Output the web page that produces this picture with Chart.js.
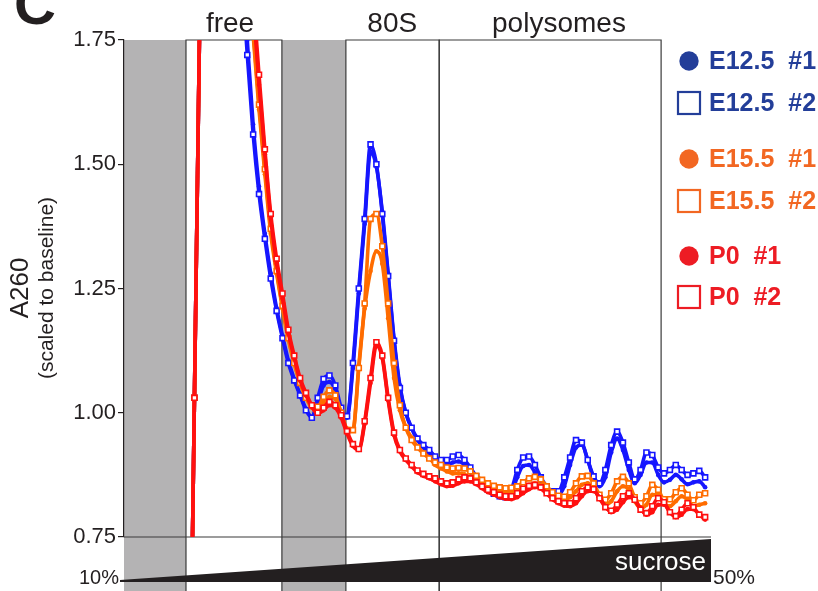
<!DOCTYPE html>
<html>
<head>
<meta charset="utf-8">
<title>Polysome profiles</title>
<script src="https://cdn.jsdelivr.net/npm/chart.js@4.4.1/dist/chart.umd.min.js"></script>
<style>
    html, body { margin: 0; padding: 0; background: #fff; }
    #wrap { width: 818px; height: 591px; }
</style>
</head>
<body>
<div id="wrap"><canvas id="profile" width="818" height="591"></canvas></div>
<script>
// gradient position (% of gradient length, top -> bottom)
const position = [
    11, 12, 13, 14, 15, 16, 17, 18, 19, 20,
    21, 22, 23, 24, 25, 26, 27, 28, 29, 30,
    31, 32, 33, 34, 35, 36, 37, 38, 39, 40,
    41, 42, 43, 44, 45, 46, 47, 48, 49, 50,
    51, 52, 53, 54, 55, 56, 57, 58, 59, 60,
    61, 62, 63, 64, 65, 66, 67, 68, 69, 70,
    71, 72, 73, 74, 75, 76, 77, 78, 79, 80,
    81, 82, 83, 84, 85, 86, 87, 88, 89, 90,
    91, 92, 93, 94, 95, 96, 97, 98, 99
];

// A260 scaled to baseline, one array per replicate
const e125Rep1 = [
    0.18, 1.03, 1.88, 2.7, 3.0, 2.95, 2.72, 2.42, 2.15, 1.93,
    1.75, 1.58, 1.455, 1.36, 1.28, 1.21, 1.155, 1.105, 1.068, 1.037,
    1.008, 0.992, 1.02, 1.055, 1.062, 1.045, 1.005, 0.99, 1.09, 1.24,
    1.38, 1.525, 1.495, 1.405, 1.28, 1.15, 1.055, 1.0, 0.968, 0.945,
    0.93, 0.918, 0.905, 0.895, 0.895, 0.9, 0.902, 0.895, 0.88, 0.865,
    0.852, 0.842, 0.835, 0.83, 0.828, 0.838, 0.87, 0.893, 0.895, 0.88,
    0.86, 0.848, 0.84, 0.835, 0.852, 0.895, 0.93, 0.935, 0.905, 0.868,
    0.852, 0.87, 0.92, 0.948, 0.925, 0.885, 0.858, 0.875, 0.9, 0.9,
    0.875, 0.86, 0.865, 0.875, 0.866, 0.856, 0.86, 0.862, 0.85
];
const e125Rep2 = [
    0.18, 1.03, 1.88, 2.7, 3.0, 2.95, 2.7, 2.4, 2.12, 1.9,
    1.72, 1.56, 1.44, 1.35, 1.27, 1.205, 1.15, 1.1, 1.065, 1.035,
    1.005, 0.99, 1.03, 1.068, 1.075, 1.055, 1.01, 0.993, 1.1, 1.25,
    1.39, 1.54, 1.5, 1.4, 1.275, 1.145, 1.05, 1.0, 0.97, 0.948,
    0.935, 0.925, 0.912, 0.905, 0.905, 0.912, 0.915, 0.905, 0.89, 0.872,
    0.858, 0.845, 0.837, 0.832, 0.83, 0.845, 0.885, 0.91, 0.912, 0.895,
    0.87, 0.852, 0.842, 0.842, 0.87, 0.91, 0.945, 0.94, 0.905, 0.872,
    0.858, 0.885, 0.935, 0.962, 0.94, 0.9, 0.866, 0.885, 0.92, 0.915,
    0.89, 0.878, 0.885, 0.895, 0.885, 0.875, 0.878, 0.883, 0.87
];
const e155Rep1 = [
    0.18, 1.03, 1.88, 2.7, 3.05, 3.05, 2.88, 2.62, 2.36, 2.12,
    1.92, 1.76, 1.61, 1.48, 1.36, 1.28, 1.21, 1.148, 1.1, 1.06,
    1.03, 1.01, 1.005, 1.02, 1.032, 1.028, 1.0, 0.968, 0.965, 1.095,
    1.21, 1.285, 1.325, 1.3, 1.19, 1.07, 1.005, 0.97, 0.95, 0.932,
    0.92, 0.91, 0.895, 0.888, 0.882, 0.878, 0.878, 0.876, 0.87, 0.862,
    0.855, 0.85, 0.845, 0.842, 0.84, 0.84, 0.843, 0.848, 0.855, 0.858,
    0.855, 0.845, 0.835, 0.828, 0.825, 0.83, 0.842, 0.855, 0.858, 0.848,
    0.828, 0.815, 0.822, 0.842, 0.852, 0.845, 0.822, 0.808, 0.815, 0.835,
    0.835, 0.818, 0.812, 0.822, 0.832, 0.825, 0.812, 0.815, 0.818
];
const e155Rep2 = [
    0.18, 1.03, 1.88, 2.7, 3.05, 3.05, 2.88, 2.62, 2.36, 2.12,
    1.93, 1.77, 1.62, 1.49, 1.37, 1.285, 1.215, 1.15, 1.1, 1.06,
    1.03, 1.015, 1.012, 1.032, 1.045, 1.035, 1.0, 0.965, 0.965, 1.09,
    1.22, 1.39, 1.4, 1.335, 1.22, 1.1, 1.015, 0.97, 0.945, 0.93,
    0.918, 0.908, 0.9, 0.895, 0.89, 0.888, 0.889, 0.888, 0.882, 0.873,
    0.865, 0.858, 0.853, 0.85, 0.848, 0.849, 0.852, 0.86, 0.868, 0.871,
    0.866, 0.852, 0.84, 0.833, 0.831, 0.84, 0.858, 0.872, 0.873, 0.858,
    0.835, 0.825, 0.838, 0.862, 0.871, 0.858, 0.83, 0.818, 0.832, 0.855,
    0.845, 0.826, 0.826, 0.84, 0.848, 0.835, 0.824, 0.835, 0.838
];
const p0Rep1 = [
    0.18, 1.03, 1.88, 2.7, 3.05, 3.1, 2.93, 2.68, 2.42, 2.18,
    1.98, 1.82, 1.66, 1.52, 1.39, 1.3, 1.23, 1.16, 1.11, 1.065,
    1.035, 1.012, 0.998, 1.005, 1.015, 1.01, 0.99, 0.958, 0.933, 0.925,
    0.978, 1.06, 1.135, 1.11, 1.025, 0.955, 0.922, 0.905, 0.892, 0.88,
    0.873, 0.868, 0.862, 0.856, 0.852, 0.853, 0.858, 0.862, 0.862, 0.856,
    0.848, 0.84, 0.835, 0.83, 0.827, 0.826, 0.83, 0.838, 0.846, 0.85,
    0.847, 0.837, 0.826, 0.818, 0.813, 0.812, 0.818, 0.832, 0.842, 0.842,
    0.83, 0.812, 0.8, 0.805, 0.82, 0.83, 0.825, 0.808, 0.795, 0.8,
    0.815, 0.815, 0.8, 0.79, 0.795, 0.806, 0.806, 0.795, 0.785
];
const p0Rep2 = [
    0.18, 1.03, 1.88, 2.7, 3.05, 3.1, 2.95, 2.7, 2.45, 2.2,
    2.0, 1.84, 1.68, 1.53, 1.4, 1.31, 1.24, 1.167, 1.115, 1.07,
    1.04, 1.015, 1.0, 1.01, 1.022, 1.015, 0.995, 0.963, 0.937, 0.927,
    0.983, 1.07, 1.142, 1.115, 1.03, 0.96, 0.925, 0.908, 0.895, 0.884,
    0.877, 0.872, 0.868, 0.862, 0.858, 0.86, 0.866, 0.87, 0.868, 0.86,
    0.852, 0.845, 0.84, 0.835, 0.832, 0.832, 0.838, 0.847, 0.853, 0.855,
    0.85, 0.838, 0.828, 0.822, 0.818, 0.818, 0.828, 0.842, 0.85, 0.846,
    0.828, 0.81, 0.803, 0.815, 0.832, 0.838, 0.825, 0.805, 0.798, 0.812,
    0.828, 0.82, 0.8, 0.792, 0.805, 0.818, 0.81, 0.795, 0.79
];

const yTicks = [0.75, 1.00, 1.25, 1.50, 1.75];

// fractions collected from the gradient (same x units as position)
const grayZones = [[0, 10.56], [26.9, 37.8]];
const fractionBoxes = [[10.56, 26.9], [37.8, 53.7], [53.7, 91.5]];
const fractionLabels = ['free', '80S', 'polysomes'];
const fractionLabelAt = [18.06, 45.7, 74.1];

const FONT = "'Liberation Sans', Arial, Helvetica, sans-serif";
const INK = '#231f20';

function series(label, values, color, marker, order) {
    const square = marker === 'square';
    return {
        label: label,
        data: position.map((x, i) => ({ x: x, y: values[i] })),
        borderColor: color,
        backgroundColor: color,
        borderWidth: 3.6,
        cubicInterpolationMode: 'monotone',
        pointStyle: square ? 'rect' : 'circle',
        pointRadius: square ? 3.5 : 2.3,
        pointBorderWidth: square ? 1.6 : 0,
        pointBorderColor: color,
        pointBackgroundColor: square ? '#fff' : color,
        marker: marker,
        order: order
    };
}

const datasets = [
    series('E12.5 #1', e125Rep1, '#1616ff', 'dot', 6),
    series('E12.5 #2', e125Rep2, '#1616ff', 'square', 5),
    series('E15.5 #1', e155Rep1, '#ff6c00', 'dot', 4),
    series('E15.5 #2', e155Rep2, '#ff6c00', 'square', 3),
    series('P0 #1', p0Rep1, '#ff1010', 'dot', 2),
    series('P0 #2', p0Rep2, '#ff1010', 'square', 1)
];
const keyColors = ['#233e99', '#233e99', '#f26722', '#f26722', '#ed1c24', '#ed1c24'];
const keyRows = [61, 103, 159, 201, 256, 297];

// gray zones, fraction boxes and the baseline, under everything else
const backdrop = {
    id: 'backdrop',
    beforeDraw(chart) {
        const { ctx, chartArea: a, scales: { x } } = chart;
        const floor = chart.height;
        ctx.save();
        ctx.fillStyle = '#fff';
        ctx.fillRect(0, 0, chart.width, chart.height);
        ctx.fillStyle = '#b4b3b4';
        grayZones.forEach(function(z) {
            const x0 = x.getPixelForValue(z[0]);
            const x1 = x.getPixelForValue(z[1]);
            ctx.fillRect(x0, a.top, x1 - x0, floor - a.top);
        });
        ctx.strokeStyle = '#3a3a3a';
        ctx.lineWidth = 1.2;
        fractionBoxes.forEach(function(b) {
            const x0 = x.getPixelForValue(b[0]);
            const x1 = x.getPixelForValue(b[1]);
            ctx.beginPath();
            ctx.moveTo(x0, floor);
            ctx.lineTo(x0, a.top);
            ctx.lineTo(x1, a.top);
            ctx.lineTo(x1, floor);
            ctx.stroke();
        });
        ctx.beginPath();
        ctx.moveTo(a.left, a.bottom);
        ctx.lineTo(a.right, a.bottom);
        ctx.stroke();
        ctx.restore();
    },
    afterDraw(chart) {
        const { ctx, chartArea: a, scales: { x } } = chart;
        ctx.save();

        // sucrose wedge
        ctx.fillStyle = INK;
        ctx.beginPath();
        ctx.moveTo(a.left - 4, a.bottom + 43);
        ctx.lineTo(a.right, a.bottom + 2);
        ctx.lineTo(a.right, a.bottom + 45);
        ctx.lineTo(a.left - 4, a.bottom + 45);
        ctx.closePath();
        ctx.fill();
        ctx.font = '26px ' + FONT;
        ctx.fillStyle = '#fff';
        ctx.textAlign = 'right';
        ctx.textBaseline = 'alphabetic';
        ctx.fillText('sucrose', a.right - 5, a.bottom + 33);
        ctx.fillStyle = INK;
        ctx.font = '20px ' + FONT;
        ctx.fillText('10%', a.left - 5, a.bottom + 47);
        ctx.textAlign = 'left';
        ctx.font = '21px ' + FONT;
        ctx.fillText('50%', a.right + 2, a.bottom + 47);

        // fraction names over the boxes
        ctx.font = '28px ' + FONT;
        ctx.textAlign = 'center';
        fractionLabels.forEach(function(t, i) {
            ctx.fillText(t, x.getPixelForValue(fractionLabelAt[i]), 32);
        });

        // axis title
        ctx.save();
        ctx.translate(21, 288);
        ctx.rotate(-Math.PI / 2);
        ctx.textBaseline = 'middle';
        ctx.font = '26px ' + FONT;
        ctx.fillText('A260', 0, 0);
        ctx.font = '21px ' + FONT;
        ctx.fillText('(scaled to baseline)', 0, 26);
        ctx.restore();

        // panel letter
        ctx.textAlign = 'left';
        ctx.font = 'bold 58px ' + FONT;
        ctx.fillText('C', 14, 24);

        // key
        ctx.font = 'bold 25px ' + FONT;
        ctx.textBaseline = 'middle';
        chart.data.datasets.forEach(function(ds, i) {
            const y = keyRows[i];
            const c = keyColors[i];
            if (ds.marker === 'square') {
                ctx.strokeStyle = c;
                ctx.lineWidth = 2.2;
                ctx.strokeRect(678, y - 11, 22, 22);
            } else {
                ctx.fillStyle = c;
                ctx.beginPath();
                ctx.arc(689, y, 9.7, 0, Math.PI * 2);
                ctx.fill();
            }
            ctx.fillStyle = c;
            ctx.fillText(ds.label.replace(' ', '  '), 709, y + 1);
        });
        ctx.restore();
    }
};

const chart = new Chart(document.getElementById('profile'), {
    type: 'line',
    data: { datasets: datasets },
    options: {
        responsive: false,
        animation: false,
        devicePixelRatio: 1,
        layout: { padding: { top: 40, right: 107, bottom: 54, left: 0 } },
        plugins: {
            legend: { display: false },
            tooltip: { enabled: false }
        },
        scales: {
            x: { type: 'linear', min: 0, max: 100, display: false },
            y: {
                min: 0.75,
                max: 1.75,
                afterFit: function(scale) { scale.width = 124; },
                afterBuildTicks: function(scale) {
                    scale.ticks = yTicks.map(v => ({ value: v }));
                },
                ticks: {
                    callback: v => v.toFixed(2),
                    color: INK,
                    padding: 2,
                    font: { family: FONT, size: 22 }
                },
                grid: { drawOnChartArea: false, tickLength: 6, color: INK, lineWidth: 1.2 },
                border: { color: INK, width: 1.2 }
            }
        }
    },
    plugins: [backdrop]
});
</script>
</body>
</html>
